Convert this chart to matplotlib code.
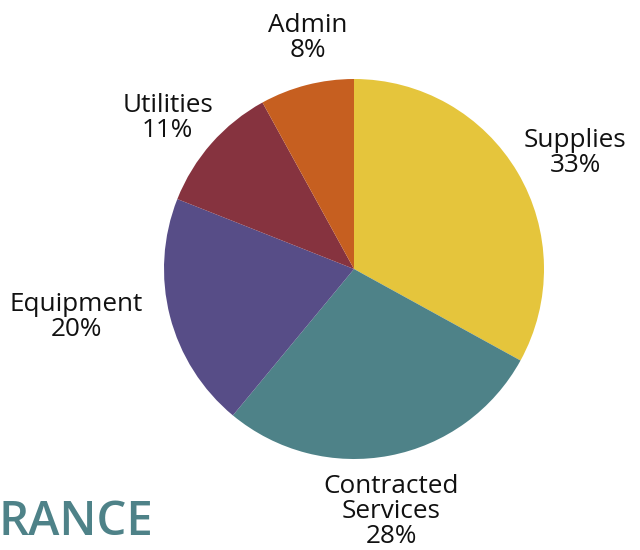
import matplotlib
matplotlib.use("Agg")
import matplotlib.pyplot as plt
import numpy as np

categories = ["Supplies", "Contracted\nServices", "Equipment", "Utilities", "Admin"]
values = [33, 28, 20, 11, 8]
colors = ["#E5C53C", "#4E8288", "#574D87", "#86333F", "#C65F20"]

# label layout: radial distance (in radii) and angular nudge (deg)
label_dist = [1.323, 1.277, 1.481, 1.270, 1.253]
label_nudge = [-2.35, -1.93, -5.0, 2.0, -3.26]

plt.rcParams['font.family'] = ['Open Sans', 'DejaVu Sans']

fig = plt.figure(figsize=(6.4, 5.5), dpi=100)
ax = fig.add_axes([0, 0, 1, 1])

cx, cy, r = 354, 550 - 269, 190
wedges, _ = ax.pie(values, colors=colors, startangle=90, counterclock=False,
                   center=(cx, cy), radius=r, frame=True,
                   wedgeprops=dict(linewidth=0))
ax.set_xlim(0, 640)
ax.set_ylim(0, 550)
ax.set_aspect('equal')
ax.axis('off')

for w, cat, v, d, nd in zip(wedges, categories, values, label_dist, label_nudge):
    ang = np.deg2rad((w.theta1 + w.theta2) / 2 + nd)
    x = cx + d * r * np.cos(ang)
    y = cy + d * r * np.sin(ang) - 2.5
    ax.text(x, y, f"{cat}\n{v}%", ha='center', va='center', fontsize=18.8,
            color='#111111', linespacing=1.0, multialignment='center')

ax.text(153, 550 - 535, "RANCE", ha='right', va='baseline', fontsize=34,
        fontweight='semibold', color='#4E8288')

fig.savefig("out.png", dpi=100)
